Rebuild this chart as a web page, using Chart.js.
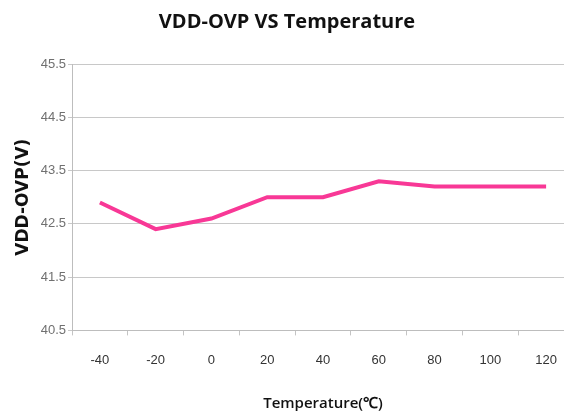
<!DOCTYPE html>
<html>
<head>
<meta charset="utf-8">
<script src="https://cdn.jsdelivr.net/npm/chart.js@4"></script>
<style>
  html, body { margin: 0; padding: 0; background: #fff; overflow: hidden; }
  #wrap { width: 578px; height: 415px; }
</style>
</head>
<body>
<div id="wrap"><canvas id="myChart" width="578" height="415"></canvas></div>
<script>
// chart data
var temps = ['-40', '-20', '0', '20', '40', '60', '80', '100', '120'];
var ovp = [42.9, 42.4, 42.6, 43.0, 43.0, 43.3, 43.2, 43.2, 43.2];
var yMin = 40.5;
var yMax = 45.5;

const ctx = document.getElementById('myChart').getContext('2d');
var myChart = new Chart(ctx, {
  type: 'line',
  data: {
    labels: temps,
    datasets: [{
      label: 'VDD-OVP',
      data: ovp,
      borderColor: 'rgb(248, 56, 150)',
      backgroundColor: 'rgb(248, 56, 150)',
      borderWidth: 4,
      pointRadius: 0,
      tension: 0
    }]
  },
  options: {
    responsive: false,
    animation: false,
    layout: { padding: { top: 10, right: 4, left: 0, bottom: 0 } },
    plugins: {
      legend: { display: false },
      tooltip: { enabled: false },
      title: {
        display: true,
        text: 'VDD-OVP VS Temperature',
        color: '#111',
        font: { family: 'Open Sans', size: 20, weight: 'bold' },
        padding: { top: 0, bottom: 30 }
      }
    },
    scales: {
      x: {
        offset: true,
        grid: { offset: true, drawOnChartArea: false, drawTicks: true, tickLength: 5, color: '#c4c4c4' },
        border: { color: '#bdbdbd' },
        ticks: { color: '#333', font: { family: 'Liberation Sans', size: 13 }, padding: 17, maxRotation: 0 },
        title: {
          display: true,
          text: 'Temperature(℃)',
          color: '#111',
          font: { family: 'Open Sans', size: 15, weight: '600' },
          padding: { top: 10, bottom: 2 }
        }
      },
      y: {
        min: yMin,
        max: yMax,
        afterFit: function(scale) { scale.width = 72; },
        grid: { color: '#c8c8c8', tickLength: 4 },
        border: { color: '#bdbdbd' },
        ticks: {
          stepSize: 1,
          color: '#707070',
          font: { family: 'Liberation Sans', size: 13 },
          padding: 2,
          callback: function(v) { return Number(v).toFixed(1); }
        },
        title: {
          display: true,
          text: 'VDD-OVP(V)',
          color: '#111',
          font: { family: 'DejaVu Sans', size: 17, weight: 'bold' },
          padding: { top: 13, bottom: 0 }
        }
      }
    }
  }
});
</script>
</body>
</html>
